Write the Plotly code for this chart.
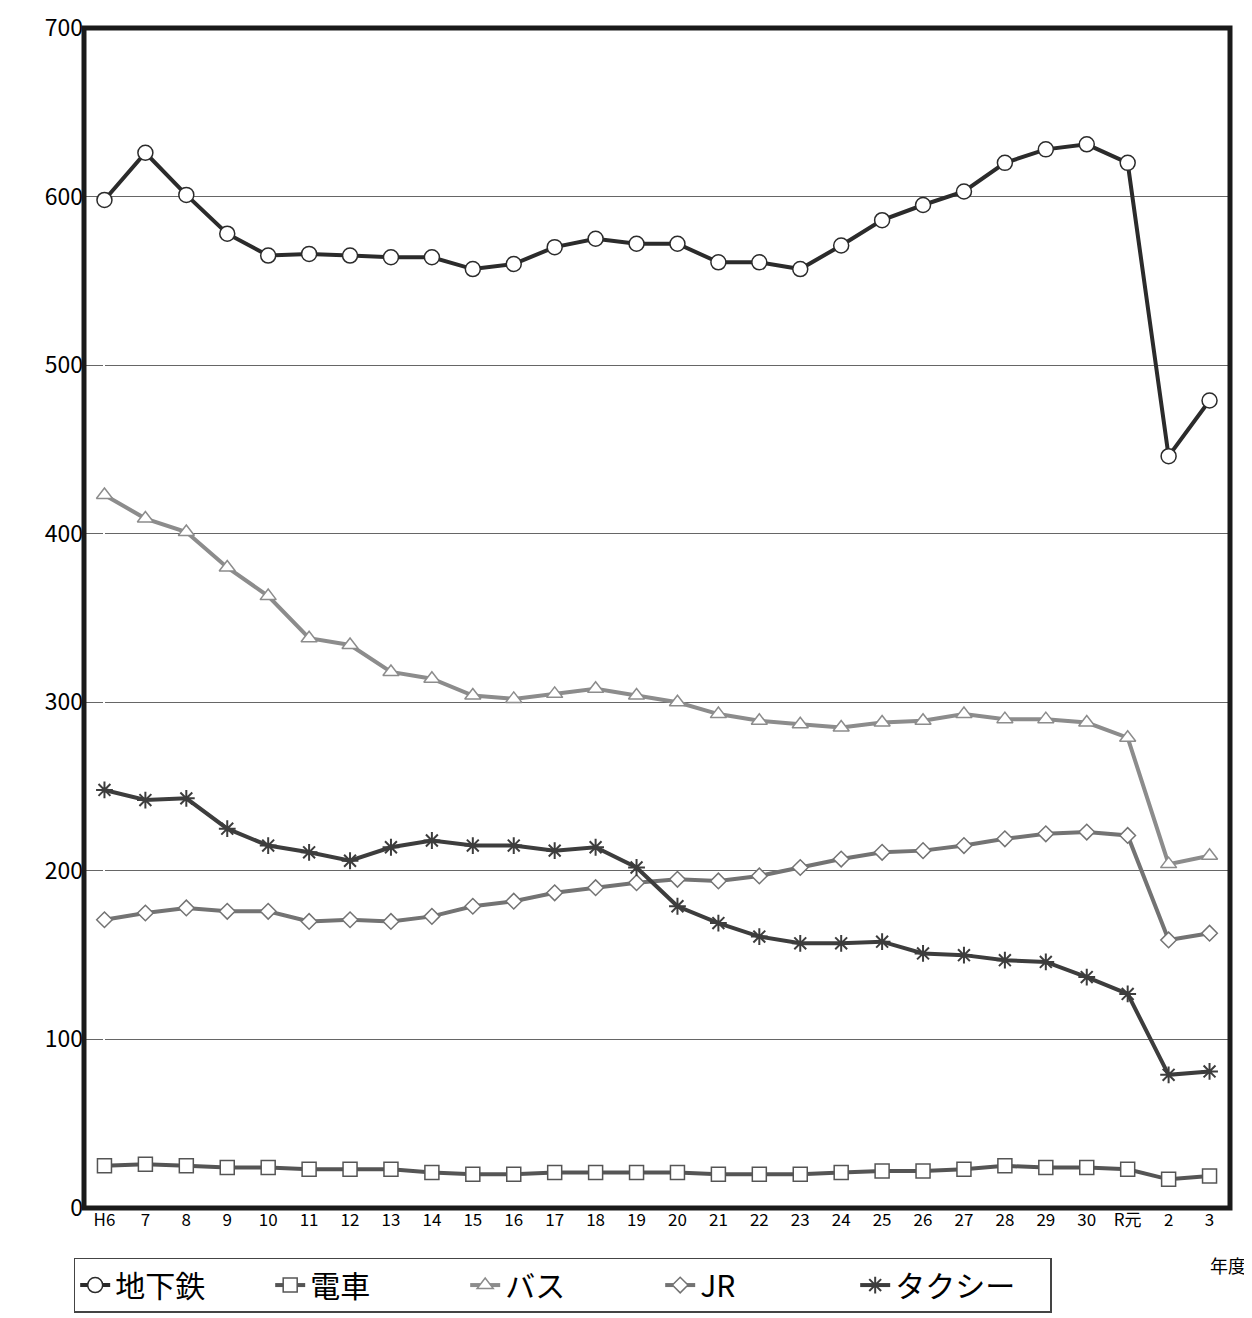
import plotly.graph_objects as go

years = ['H6', '7', '8', '9', '10', '11', '12', '13', '14', '15', '16', '17', '18', '19',
         '20', '21', '22', '23', '24', '25', '26', '27', '28', '29', '30', 'R元', '2', '3']

subway = [598, 626, 601, 578, 565, 566, 565, 564, 564, 557, 560, 570, 575, 572,
          572, 561, 561, 557, 571, 586, 595, 603, 620, 628, 631, 620, 446, 479]
train = [25, 26, 25, 24, 24, 23, 23, 23, 21, 20, 20, 21, 21, 21,
         21, 20, 20, 20, 21, 22, 22, 23, 25, 24, 24, 23, 17, 19]
bus = [423, 409, 401, 380, 363, 338, 334, 318, 314, 304, 302, 305, 308, 304,
       300, 293, 289, 287, 285, 288, 289, 293, 290, 290, 288, 279, 204, 209]
jr = [171, 175, 178, 176, 176, 170, 171, 170, 173, 179, 182, 187, 190, 193,
      195, 194, 197, 202, 207, 211, 212, 215, 219, 222, 223, 221, 159, 163]
taxi = [248, 242, 243, 225, 215, 211, 206, 214, 218, 215, 215, 212, 214, 202,
        179, 169, 161, 157, 157, 158, 151, 150, 147, 146, 137, 127, 79, 81]

series = [
    ('地下鉄', subway, '#2b2b2b', 'circle', 15),
    ('電車', train, '#555555', 'square', 14),
    ('バス', bus, '#8c8c8c', 'triangle-up', 14),
    ('JR', jr, '#737373', 'diamond', 12),
    ('タクシー', taxi, '#3d3d3d', 'asterisk-open', 14),
]

fig = go.Figure()
for name, vals, color, symbol, size in series:
    if symbol == 'asterisk-open':
        marker = dict(symbol=symbol, size=size, color=color, line=dict(color=color, width=2))
    else:
        marker = dict(symbol=symbol, size=size, color='white', line=dict(color=color, width=1.5))
    fig.add_trace(go.Scatter(x=list(range(len(years))), y=vals, mode='lines+markers', name=name,
                             line=dict(color=color, width=4), marker=marker))

fig.update_layout(
    width=1252, height=1318,
    margin=dict(l=76, r=30, t=20, b=118, autoexpand=False),
    plot_bgcolor='white', paper_bgcolor='white',
    font=dict(family='Noto Sans CJK JP', color='black'),
    showlegend=True,
    legend=dict(orientation='h', x=-0.009, y=-0.042, xanchor='left', yanchor='top',
                bordercolor='#444', borderwidth=1.5, font=dict(size=30),
                entrywidth=150, tracegroupgap=0),
    xaxis=dict(tickmode='array', tickvals=list(range(len(years))), ticktext=years,
               range=[-0.5, 27.5], showgrid=False, tickfont=dict(size=17), ticks=''),
    yaxis=dict(range=[0, 700], dtick=100, showgrid=True, gridcolor='#666', gridwidth=1,
               tickfont=dict(size=23), zeroline=False, ticklabeloverflow='allow'),
    shapes=[dict(type='rect', xref='paper', yref='paper', x0=0, y0=0, x1=1, y1=1,
                 line=dict(color='#1a1a1a', width=5))],
    annotations=[dict(text='年度', xref='paper', yref='paper', x=1.016, y=-0.036,
                      xanchor='right', yanchor='top', showarrow=False, font=dict(size=18))],
)

fig.write_html('out.html')
